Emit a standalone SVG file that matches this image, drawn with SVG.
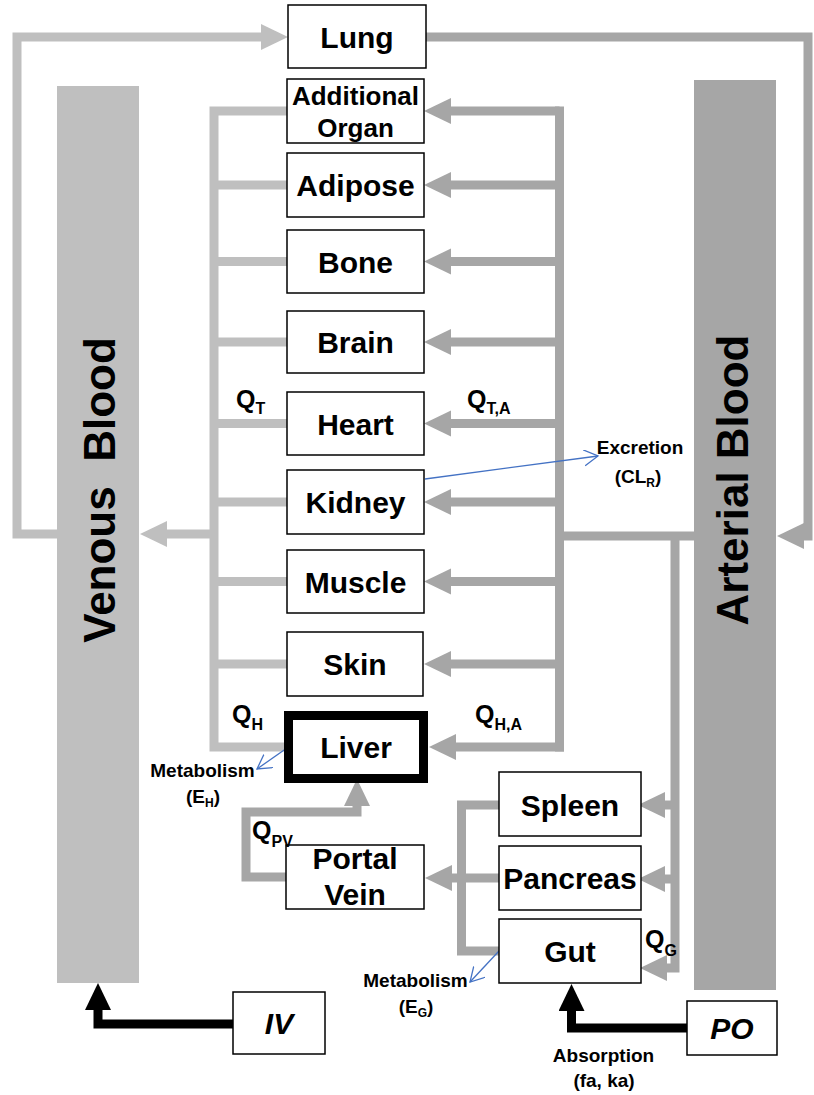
<svg xmlns="http://www.w3.org/2000/svg" width="814" height="1095" viewBox="0 0 814 1095">
<style>
  .box { fill: #ffffff; stroke: #000000; stroke-width: 1.5; }
  .lbl { font-family: "Liberation Sans", Arial, sans-serif; font-weight: bold; font-size: 30px; fill: #000; text-anchor: middle; }
  .big { font-family: "Liberation Sans", Arial, sans-serif; font-weight: bold; font-size: 44px; fill: #000; text-anchor: middle; }
  .sm { font-family: "Liberation Sans", Arial, sans-serif; font-weight: bold; font-size: 19px; fill: #000; text-anchor: middle; }
  .q { font-family: "Liberation Sans", Arial, sans-serif; font-weight: bold; font-size: 25px; fill: #000; }
  .sub { font-size: 16px; }
  .ven { fill: none; stroke: #BFBFBF; stroke-width: 9; }
  .art { fill: none; stroke: #A6A6A6; stroke-width: 9; }
  .blk { fill: none; stroke: #000000; stroke-width: 9; }
  .blu { fill: none; stroke: #4472C4; stroke-width: 1.3; }
</style>
<defs>
  <marker id="aL" markerUnits="userSpaceOnUse" markerWidth="28" markerHeight="27" refX="0" refY="13" orient="auto">
    <path d="M0,0 L27,13 L0,26 z" fill="#BFBFBF"/>
  </marker>
  <marker id="aD" markerUnits="userSpaceOnUse" markerWidth="28" markerHeight="27" refX="0" refY="13" orient="auto">
    <path d="M0,0 L27,13 L0,26 z" fill="#A6A6A6"/>
  </marker>
  <marker id="aK" markerUnits="userSpaceOnUse" markerWidth="28" markerHeight="27" refX="0" refY="13" orient="auto">
    <path d="M0,0 L27,13 L0,26 z" fill="#000000"/>
  </marker>
  <marker id="aB" markerUnits="userSpaceOnUse" markerWidth="16" markerHeight="18" refX="14" refY="8" orient="auto">
    <path d="M0,0 L14,8 L0,16" fill="none" stroke="#4472C4" stroke-width="1.3"/>
  </marker>
</defs>

<g id="connectors">
  <!-- venous side -->
  <path class="ven" d="M57,534 H17 V37 H261" marker-end="url(#aL)"/>
  <path class="ven" d="M287,111 H214 V747 H285"/>
  <path class="ven" d="M214,185 H287 M214,261.5 H287 M214,342 H287 M214,423.5 H287 M214,502 H287 M214,581.5 H287 M214,664 H287"/>
  <path class="ven" d="M214,534 H167" marker-end="url(#aL)"/>
  <!-- arterial side -->
  <path class="art" d="M426,37 H808 V536 H804" marker-end="url(#aD)"/>
  <path class="art" d="M694,536 H559.5 M559.5,106.5 V751.5"/>
  <path class="art" d="M559.5,111 H451" marker-end="url(#aD)"/>
  <path class="art" d="M559.5,185 H451" marker-end="url(#aD)"/>
  <path class="art" d="M559.5,261.5 H451" marker-end="url(#aD)"/>
  <path class="art" d="M559.5,342 H451" marker-end="url(#aD)"/>
  <path class="art" d="M559.5,423.5 H451" marker-end="url(#aD)"/>
  <path class="art" d="M559.5,502 H451" marker-end="url(#aD)"/>
  <path class="art" d="M559.5,581.5 H451" marker-end="url(#aD)"/>
  <path class="art" d="M559.5,664 H451" marker-end="url(#aD)"/>
  <path class="art" d="M564,747 H456" marker-end="url(#aD)"/>
  <path class="art" d="M675,536 V968 H667" marker-end="url(#aD)"/>
  <path class="art" d="M675,805 H665" marker-end="url(#aD)"/>
  <path class="art" d="M675,879 H665" marker-end="url(#aD)"/>
  <!-- splanchnic -->
  <path class="art" d="M499,805 H461.5 V951 H499"/>
  <path class="art" d="M499,878 H452" marker-end="url(#aD)"/>
  <path class="art" d="M286,877 H246 V812 H357 V806" marker-end="url(#aD)"/>
  <!-- dosing -->
  <path class="blk" d="M233,1024 H98 V1010" marker-end="url(#aK)"/>
  <path class="blk" d="M687,1028 H571.5 V1011" marker-end="url(#aK)"/>
  <!-- elimination -->
  <path class="blu" d="M425,479 L598,456" marker-end="url(#aB)"/>
  <path class="blu" d="M287,748 L257,769" marker-end="url(#aB)"/>
  <path class="blu" d="M499,951 L470,982" marker-end="url(#aB)"/>
</g>

<g id="venous-blood">
  <rect x="57" y="86" width="82" height="897" fill="#BFBFBF"/>
  <text class="big" transform="translate(115,490) rotate(-90)" xml:space="preserve">Venous  Blood</text>
</g>
<g id="arterial-blood">
  <rect x="694" y="80" width="82" height="910" fill="#A6A6A6"/>
  <text class="big" transform="translate(748,480) rotate(-90)">Arterial Blood</text>
</g>

<g id="lung"><rect class="box" x="288" y="5" width="138" height="63"/><text class="lbl" x="357" y="47.5">Lung</text></g>
<g id="additional-organ"><rect class="box" x="287" y="79" width="137" height="64"/><text class="lbl" x="355.5" y="105" style="font-size:26px">Additional</text><text class="lbl" x="355.5" y="137" style="font-size:26px">Organ</text></g>
<g id="adipose"><rect class="box" x="287" y="153" width="137" height="64"/><text class="lbl" x="355.5" y="196">Adipose</text></g>
<g id="bone"><rect class="box" x="287" y="230" width="137" height="63"/><text class="lbl" x="355.5" y="272.5">Bone</text></g>
<g id="brain"><rect class="box" x="287" y="311" width="137" height="62"/><text class="lbl" x="355.5" y="353">Brain</text></g>
<g id="heart"><rect class="box" x="287" y="392" width="137" height="63"/><text class="lbl" x="355.5" y="434.5">Heart</text></g>
<g id="kidney"><rect class="box" x="287" y="470" width="137" height="64"/><text class="lbl" x="355.5" y="513">Kidney</text></g>
<g id="muscle"><rect class="box" x="287" y="550" width="137" height="63"/><text class="lbl" x="355.5" y="592.5">Muscle</text></g>
<g id="skin"><rect class="box" x="287" y="632" width="136" height="64"/><text class="lbl" x="355" y="675">Skin</text></g>
<g id="liver"><rect x="288.5" y="715.5" width="135" height="63" fill="#fff" stroke="#000" stroke-width="9"/><text class="lbl" x="356" y="758">Liver</text></g>
<g id="portal-vein"><rect class="box" x="286" y="845" width="138" height="64"/><text class="lbl" x="355" y="869">Portal</text><text class="lbl" x="355" y="905">Vein</text></g>
<g id="spleen"><rect class="box" x="499" y="772" width="142" height="64"/><text class="lbl" x="570" y="816">Spleen</text></g>
<g id="pancreas"><rect class="box" x="499" y="846" width="142" height="64"/><text class="lbl" x="570" y="889">Pancreas</text></g>
<g id="gut"><rect class="box" x="499" y="919" width="142" height="64"/><text class="lbl" x="570" y="962">Gut</text></g>
<g id="iv"><rect class="box" x="233" y="992" width="92" height="62"/><text class="lbl" x="279" y="1034" font-style="italic">IV</text></g>
<g id="po"><rect class="box" x="687" y="1001" width="90" height="54"/><text class="lbl" x="732" y="1039" font-style="italic">PO</text></g>

<g id="labels">
  <text class="q" x="236" y="408">Q<tspan class="sub" dy="6">T</tspan></text>
  <text class="q" x="467" y="408">Q<tspan class="sub" dy="6">T,A</tspan></text>
  <text class="q" x="232" y="723">Q<tspan class="sub" dy="7">H</tspan></text>
  <text class="q" x="475" y="723">Q<tspan class="sub" dy="7">H,A</tspan></text>
  <text class="q" x="252" y="839">Q<tspan class="sub" dy="8">PV</tspan></text>
  <text class="q" x="645" y="948">Q<tspan class="sub" dy="8">G</tspan></text>
  <text class="sm" x="640" y="454">Excretion</text>
  <text class="sm" x="638" y="483">(CL<tspan style="font-size:12px" dy="4">R</tspan><tspan dy="-4">)</tspan></text>
  <text class="sm" x="202.5" y="777">Metabolism</text>
  <text class="sm" x="203" y="803">(E<tspan style="font-size:12px" dy="4">H</tspan><tspan dy="-4">)</tspan></text>
  <text class="sm" x="415.5" y="987">Metabolism</text>
  <text class="sm" x="416" y="1013">(E<tspan style="font-size:12px" dy="4">G</tspan><tspan dy="-4">)</tspan></text>
  <text class="sm" x="603.5" y="1062">Absorption</text>
  <text class="sm" x="604" y="1087">(fa, ka)</text>
</g>
</svg>
